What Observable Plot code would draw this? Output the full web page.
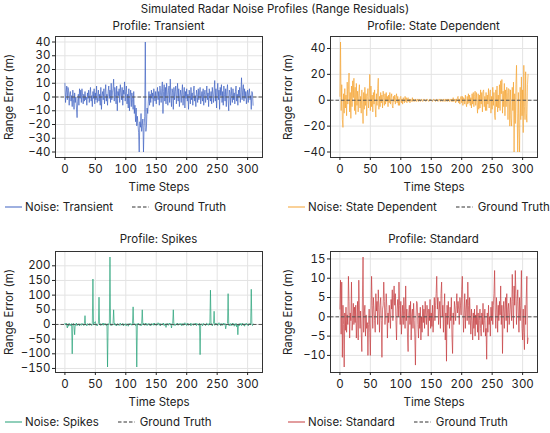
<!DOCTYPE html>
<html>
<head>
<meta charset="utf-8">
<script src="https://cdn.jsdelivr.net/npm/d3@7"></script>
<script src="https://cdn.jsdelivr.net/npm/@observablehq/plot@0.6"></script>
<style>
  html, body { margin: 0; padding: 0; background: #fff; }
  #fig { position: relative; width: 550px; height: 433px; font-family: Inter, "DejaVu Sans", sans-serif; color: #222; overflow: hidden; }
  .txt { position: absolute; white-space: nowrap; transform: translate(-50%, -50%); font-size: 11.5px; }
  .panel { position: absolute; }
  .legend { position: absolute; display: flex; align-items: center; font-size: 11.5px; white-space: nowrap; transform: translateY(-50%); }
  .legend svg { display: block; }
</style>
</head>
<body>
<div id="fig"></div>
<script>
const figTitle = "Simulated Radar Noise Profiles (Range Residuals)";
const xTicks = [0, 50, 100, 150, 200, 250, 300];

const transient = [
  10, -4, 3, 8, -2, 7, 5, -6, 2, 4,
  -3, 1, -7, 5, -2, -9, 3, -4, 0, -8,
  -15, -3, 2, -6, 6, -1, 5, -4, 6, 1,
  -5, 2, -3, 4, -2, 0, -6, 3, -1, 5,
  -4, 2, 7, -3, 1, -7, 4, -1, 6, -5,
  3, -2, 8, -4, 0, 5, -3, 2, -6, 7,
  -9, 1, 4, -2, 6, -5, 3, 9, -3, 2,
  -6, 4, 8, -1, 5, -4, 10, -2, 3, 6,
  13, -3, 7, 2, -5, 8, -10, 4, 1, 6,
  -4, 9, 3, -2, 7, -6, 5, 2, 11, -3,
  4, 8, -5, 2, -8, 6, -10, 1, 5, -7,
  3, -2, -9, 4, -12, -6, -18, -8, -21, -14,
  -20, -26, -40, -18, -22, -12, -25, -20, -16, -40,
  -22, -14, 40, -25, -20, -8, -12, -3, 4, -6,
  2, -4, 5, -1, 3, -7, 6, 0, -3, 4,
  -5, 2, 7, -2, 4, -6, 8, 3, -4, 6,
  11, -12, 4, 9, -3, 7, -5, 10, 2, -6,
  5, 8, -4, 13, 1, -7, 6, 3, -9, 7,
  -2, 4, 8, -5, 2, 10, -3, 6, -7, 1,
  5, -4, 3, 9, -6, 2, 7, -8, 4, -1,
  6, -3, 2, -9, 5, 1, -5, 7, -2, 3,
  -6, 4, 8, -3, 1, -7, 5, 2, -4, 6,
  -2, 3, 7, -5, 0, 4, -3, 6, -6, 2,
  5, -4, 1, 8, -2, 3, -7, 6, 0, -3,
  4, -5, 7, 2, -4, 5, 12, -3, 6, -8,
  3, 10, -2, 5, -9, 7, 1, 9, -4, 4,
  -6, 8, 2, -3, 6, -7, 4, 9, -2, -10,
  5, 3, -6, 7, 1, -4, 6, -2, 3, -5,
  4, 8, -3, 2, -6, 5, 0, 7, -4, 3,
  14, -2, 5, 9, -3, 6, -1, 4, -5, 2,
  5, -4, 3, 6, -2, 1, -9, 4, 3, -6
];

const stateDependent = [
  3, 45, -8, 12, -15, -21, 5, -10, 9, -6,
  4, -12, 14, -3, 8, 21, -9, 6, -14, 11,
  -5, 15, 2, 17, -8, 10, -11, 13, -4, 7,
  -9, 5, 12, -6, 3, -10, 8, -3, -18, 6,
  -7, 10, -4, 5, -12, 3, 9, -6, 2, 20,
  -8, 11, -5, 4, -9, 6, -3, 8, -6, -13,
  5, -4, 9, 17, -7, 3, -5, 6, -2, 4,
  -6, 7, 2, -4, 5, -3, 6, -1, 3, -5,
  4, -2, 6, -3, 2, 5, -4, -6, 3, -1,
  4, -3, 2, 5, -2, 3, -4, 1, -4, 2,
  3, -2, 1, -3, 2, 0, -2, 3, -1, 2,
  -2, 1, 2, -1, 1, -2, 1, 0, -1, 2,
  -1, 1, 0, -1, 1, 0, -1, 1, 0, -1,
  1, 0, -1, 0, 1, 0, -1, 0, 1, 0,
  0, -1, 0, 1, 0, 0, -1, 0, 1, 0,
  0, 0, -1, 0, 1, 0, 0, -1, 0, 1,
  0, -1, 0, 1, 0, -1, 1, 0, -1, 0,
  1, -1, 0, 1, -1, 0, 1, -1, 1, 0,
  -1, 1, 0, -1, 1, -1, 2, -1, 0, 1,
  -2, 1, -1, 2, 3, -2, 1, -3, 2, 3,
  -2, 3, -4, 2, 1, -3, 4, -2, -5, 3,
  -3, 5, -2, 4, -4, 2, -6, 5, -3, 6,
  -5, 3, 7, -4, 6, -2, -10, 5, -7, 4,
  -6, 8, -3, 6, -9, 7, 8, -5, 3, -8,
  6, -8, 4, -3, 9, -6, 5, 8, -10, 3,
  -7, 10, -4, 6, -12, -15, 8, -5, 11, -9,
  4, -6, 12, -8, 15, 5, 16, -10, 7, -5,
  13, -12, 8, -5, 10, 6, -15, 9, 8, -20,
  8, -14, -20, 10, -8, 14, -40, 5, -18, 12,
  27, -10, -40, 6, -22, -40, 10, -15, 18, -12,
  8, -25, 27, -5, -15, 22, -10, -17, 12, 20
];

const spikes = [
  3, -2, 5, -4, -12, 2, -6, 4, -3, 1,
  -5, 3, -100, -2, 4, -6, -35, 2, -3, 5,
  -4, 1, -2, 3, -5, 2, 0, -3, 4, -1,
  2, -4, 3, 30, -2, 1, -5, 3, -1, 2,
  -3, 4, -2, 1, -4, 3, 155, -2, 5, 8,
  10, -3, 2, -5, 1, 4, 93, -2, 3, -4,
  2, -1, 4, -3, 5, -2, 1, 3, -4, 2,
  -145, 3, -2, 5, 230, -3, 2, -4, 1, 3,
  50, -2, 4, -3, 1, -5, 2, 3, -1, -4,
  2, 5, -3, 1, -2, 4, -5, 2, 0, -3,
  3, -4, 2, 1, -6, 3, -2, 4, -1, 2,
  -3, 5, 60, -2, 1, 3, -4, 2, -145, 3,
  -2, 4, 1, -3, 2, -5, 3, 50, -2, 4,
  1, -3, 5, -2, 3, -4, 2, 0, 4, -3,
  2, -5, 3, 1, -2, 4, -3, 5, -1, 2,
  -4, 3, -2, 6, 1, -3, 4, -5, 2, -1,
  3, -2, 5, -4, 1, 2, -10, 3, -2, 4,
  -3, 1, 5, -2, 3, -12, 2, 4, 50, -3,
  2, -4, 1, 3, -2, 5, -3, 2, -1, 4,
  -2, 3, -5, 1, 4, -3, 2, 6, -1, 3,
  -4, 2, 5, -3, 1, -2, 4, -5, 3, 0,
  2, -3, 4, 1, -2, 5, -4, 3, -1, 2,
  -3, 4, -103, 2, -1, 3, -5, 2, 4, -2,
  1, -4, 3, 5, -2, 2, -3, 4, 1, 117,
  -2, 3, -5, 2, 4, 45, -3, 1, 5, -2,
  3, -4, 2, 6, -1, 3, -5, 2, 4, -3,
  1, 5, -2, 3, -15, -4, 2, 4, 105, -3,
  2, -5, 3, 1, -4, 5, -2, 3, -6, 2,
  -3, 4, -8, 1, -35, 2, -5, 3, -2, 4,
  -4, 2, 5, -3, 1, -6, 3, -2, 4, -1,
  2, -5, 3, 1, 4, -2, 120, 3, -4, 2
];

const standard = [
  2, 9.5, -4.5, 9, -10.5, 3, -2, -13, 1, -3.5,
  2.5, -4, 0.5, -2, 10.5, 4, -5.5, 1, -1, 9,
  -3.5, -1, 3.5, -2, 2.5, -1.5, 3, -5.5, -1, 4,
  -6, 9.5, 2, -3, 1.5, -4, -9, 5, 15.5, -4,
  1, 3, -5, 0.5, -3, -1.5, -10, -2, 2, -4,
  -10, 1, 10.5, 3, -3, 5, 2, -1, -4, 6,
  1.5, 4, -2, 7, 2.5, -4, 3, 5, -1, -10.5,
  2, 3, 9, 4, -2, 1, 6, 2.5, -5.5, 1,
  -1.5, 3, 0.5, -3, 4.5, 2, 7, -1, 5, 8,
  3, 6, -1, -6, 2, 4.5, 0, 9, 3, -2,
  4, -4.5, -0.5, 3, -2, 5, 1.5, -3, 8, -1,
  2, -5, -9, 1, 3, -2, 4, -6, 0.5, 2,
  -3, 3.5, -1, -5, -12.5, 0, 4, 3.5, -2, -5.5,
  1, -3, 2.5, -6, 0, -4, 3, -1.5, 2, -3,
  4, 0.5, -2, 3, 1, -5, 2, -1, 4.5, -3,
  1, -2.5, 3, -4, 0, 5, -1, 3, 6, 10.5,
  2, 5, -2, 1.5, 4, -3, 6, 9, 0, 3,
  -4, 2, 6, -6, 1, -11.5, 3, -2, 4, 0,
  -3, 2.5, -1, 5, -5, -9.5, 1, -2, 4, 2,
  -1, 3, 6, 1, 4, 2, -2, 5, 3, 0.5,
  7, 10.5, 2, -4, 1, 6, -3, 2, 4.5, -1,
  9, 3, -2, 5, 0, -4.5, 2, -1, -6, 1,
  -3, 2, -5, 0.5, -2, 3, -4, 1, -6, -1,
  2, -3, -5, 1, -2, 3.5, -4, -1, 2, -5,
  -3, -11, 1, -4, 3, -2, 0, -5, 2.5, -1,
  4, -2, 3, 6, 12, 1, -3, 5, 2, -4,
  3, -1, 4, 0.5, 8, -2, 3, -9.5, 1, 4,
  -3, 2, 5, -1, 6, -4, 2, 3.5, -2, 1,
  5, 2, -1, 11, 4, -3, 8, 3, 12, 6,
  -2, 4, 7, 1, -4, 5, -1, 3, 12, -3,
  -6, 2, -4, -8.5, 3, -2, 5, 10.5, -7, -5.5
];

const panels = [
  {name: "Transient", values: transient, color: "#3b5fc0", yTicks: [-40, -30, -20, -10, 0, 10, 20, 30, 40], left: 0, top: 0, labelOffset: 51, legendLeft: 5},
  {name: "State Dependent", values: stateDependent, color: "#f5a330", yTicks: [-40, -20, 0, 20, 40], left: 275, top: 0, labelOffset: 47, legendLeft: 13},
  {name: "Spikes", values: spikes, color: "#1f9e74", yTicks: [-150, -100, -50, 0, 50, 100, 150, 200], left: 0, top: 215, labelOffset: 51, legendLeft: 5},
  {name: "Standard", values: standard, color: "#c4383c", yTicks: [-10, -5, 0, 5, 10, 15], left: 275, top: 215, labelOffset: 47, legendLeft: 13}
];

const fig = document.getElementById("fig");

function addText(txt, x, y, size) {
  const d = document.createElement("div");
  d.className = "txt";
  d.textContent = txt;
  d.style.left = x + "px";
  d.style.top = y + "px";
  if (size) d.style.fontSize = size + "px";
  fig.appendChild(d);
}

addText(figTitle, 275, 9);

function swatch(color, dashed, opacity) {
  const ns = "http://www.w3.org/2000/svg";
  const s = document.createElementNS(ns, "svg");
  s.setAttribute("width", 17); s.setAttribute("height", 10);
  const l = document.createElementNS(ns, "line");
  l.setAttribute("x1", 0); l.setAttribute("x2", 17);
  l.setAttribute("y1", 5); l.setAttribute("y2", 5);
  l.setAttribute("stroke", color);
  l.setAttribute("stroke-width", dashed ? 1 : 1.1);
  if (opacity) l.setAttribute("stroke-opacity", opacity);
  if (dashed) l.setAttribute("stroke-dasharray", "3.5,2");
  s.appendChild(l);
  return s;
}

for (const p of panels) {
  const n = p.values.length;
  const steps = d3.range(n);
  const xDomain = [-(n - 1) * 0.05, (n - 1) * 1.05];
  const yMin = d3.min(p.values), yMax = d3.max(p.values);
  const pad = (yMax - yMin) * 0.05;
  const chart = Plot.plot({
    width: 275,
    height: 165,
    marginLeft: 55,
    marginRight: 13,
    marginTop: 6,
    marginBottom: 38,
    style: {fontFamily: "Inter, 'DejaVu Sans', sans-serif", fontSize: "11.5px", color: "#222", background: "transparent"},
    x: {domain: xDomain},
    y: {domain: [yMin - pad, yMax + pad]},
    marks: [
      Plot.gridX(xTicks, {stroke: "#e3e3e3", strokeOpacity: 1, strokeWidth: 1}),
      Plot.gridY(p.yTicks, {stroke: "#e3e3e3", strokeOpacity: 1, strokeWidth: 1}),
      Plot.lineY(p.values, {x: steps, y: p.values, stroke: p.color, strokeWidth: 0.8, strokeOpacity: 0.85}),
      Plot.ruleY([0], {stroke: "#555", strokeWidth: 1, strokeDasharray: "3.5,2"}),
      Plot.frame({stroke: "#333", strokeWidth: 1}),
      Plot.axisX(xTicks, {tickSize: 3, tickPadding: 4, label: "Time Steps", labelAnchor: "center", labelArrow: "none", labelOffset: 33}),
      Plot.axisY(p.yTicks, {tickSize: 3, tickPadding: 2, label: "Range Error (m)", labelAnchor: "center", labelArrow: "none", labelOffset: p.labelOffset})
    ]
  });
  chart.classList.add("panel");
  chart.style.left = p.left + "px";
  chart.style.top = (p.top + 30) + "px";
  fig.appendChild(chart);

  addText("Profile: " + p.name, p.left + 158.5, p.top + (p.top ? 24 : 26));

  const lg = document.createElement("div");
  lg.className = "legend";
  lg.style.left = (p.left + p.legendLeft) + "px";
  lg.style.top = (p.top + 207) + "px";
  lg.appendChild(swatch(p.color, false, 0.9));
  const t1 = document.createElement("span");
  t1.textContent = "Noise: " + p.name;
  t1.style.margin = "0 0 0 3px";
  lg.appendChild(t1);
  const sw2 = swatch("#333", true);
  sw2.style.marginLeft = "19px";
  lg.appendChild(sw2);
  const t2 = document.createElement("span");
  t2.textContent = "Ground Truth";
  t2.style.marginLeft = "5px";
  lg.appendChild(t2);
  fig.appendChild(lg);
}
</script>
</body>
</html>
